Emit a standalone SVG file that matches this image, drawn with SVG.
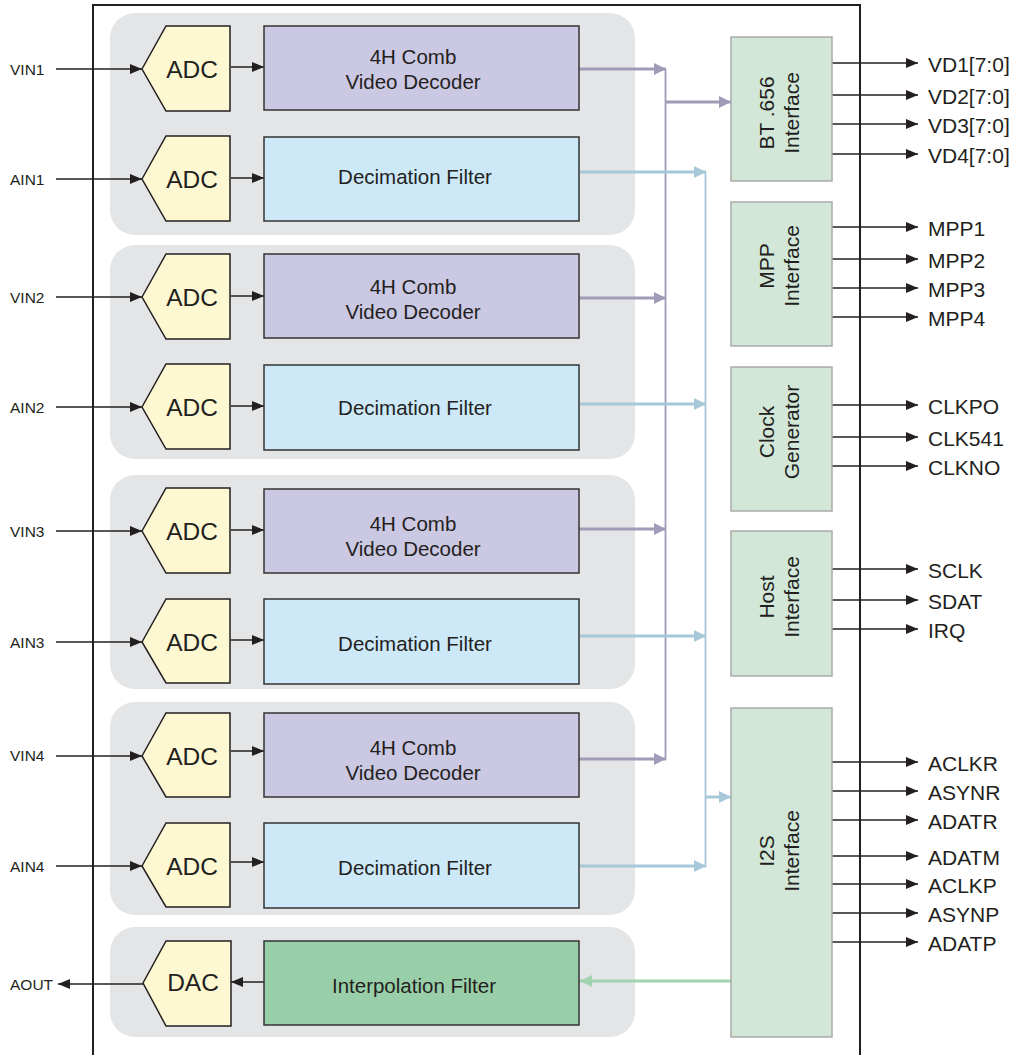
<svg xmlns="http://www.w3.org/2000/svg" width="1014" height="1055" viewBox="0 0 1014 1055">
<style>
text{font-family:"Liberation Sans",Arial,sans-serif;fill:#231f20}
.grp{fill:#e4e5e7}
.adc{fill:#fdf8d2;stroke:#231f20;stroke-width:1.5}
.dec{fill:#cbc8e4;stroke:#333;stroke-width:1.5}
.flt{fill:#cde9f8;stroke:#333;stroke-width:1.5}
.itp{fill:#99cfa8;stroke:#333;stroke-width:1.5}
.ifc{fill:#d2e7d8;stroke:#aaaaaa;stroke-width:1.5}
.blk{stroke:#231f20;stroke-width:1.5;fill:none}
.pur{stroke:#a09cb8;fill:none}
.blu{stroke:#a6c8d8;fill:none}
.grn{stroke:#a0d4b0;fill:none;stroke-width:3}
.lbl{font-size:15.5px}
.adct{font-size:24.5px;text-anchor:middle}
.bt{font-size:20.5px;text-anchor:middle}
.out{font-size:21px}
.rot{font-size:21px;text-anchor:middle}
</style>
<defs>
<marker id="aB" markerUnits="userSpaceOnUse" markerWidth="12" markerHeight="10" refX="12" refY="5" orient="auto"><path d="M0,0 L12,5 L0,10 z" fill="#231f20"/></marker>
<marker id="aP" markerUnits="userSpaceOnUse" markerWidth="12" markerHeight="12" refX="12" refY="6" orient="auto"><path d="M0,0 L12,6 L0,12 z" fill="#a09cb8"/></marker>
<marker id="aL" markerUnits="userSpaceOnUse" markerWidth="12" markerHeight="12" refX="12" refY="6" orient="auto"><path d="M0,0 L12,6 L0,12 z" fill="#a6c8d8"/></marker>
<marker id="aG" markerUnits="userSpaceOnUse" markerWidth="12" markerHeight="12" refX="12" refY="6" orient="auto"><path d="M0,0 L12,6 L0,12 z" fill="#a0d4b0"/></marker>
</defs>

<rect x="93" y="5" width="767" height="1060" fill="none" stroke="#231f20" stroke-width="2"/>

<g id="groups">
<rect class="grp" x="110" y="13" width="525" height="222" rx="25"/>
<rect class="grp" x="110" y="245" width="525" height="214" rx="25"/>
<rect class="grp" x="110" y="475" width="525" height="214" rx="25"/>
<rect class="grp" x="110" y="702" width="525" height="213" rx="25"/>
<rect class="grp" x="110" y="927" width="525" height="110" rx="25"/>
</g>

<g id="connectors">
<line class="blk" x1="56" y1="69" x2="142" y2="69" marker-end="url(#aB)"/>
<line class="blk" x1="56" y1="179" x2="142" y2="179" marker-end="url(#aB)"/>
<line class="blk" x1="56" y1="297" x2="142" y2="297" marker-end="url(#aB)"/>
<line class="blk" x1="56" y1="407" x2="142" y2="407" marker-end="url(#aB)"/>
<line class="blk" x1="56" y1="531" x2="142" y2="531" marker-end="url(#aB)"/>
<line class="blk" x1="56" y1="642" x2="142" y2="642" marker-end="url(#aB)"/>
<line class="blk" x1="56" y1="756" x2="142" y2="756" marker-end="url(#aB)"/>
<line class="blk" x1="56" y1="866" x2="142" y2="866" marker-end="url(#aB)"/>
<line class="blk" x1="143" y1="984" x2="58" y2="984" marker-end="url(#aB)"/>
<line class="blk" x1="231" y1="67" x2="264" y2="67" marker-end="url(#aB)"/>
<line class="blk" x1="231" y1="178" x2="264" y2="178" marker-end="url(#aB)"/>
<line class="blk" x1="231" y1="296" x2="264" y2="296" marker-end="url(#aB)"/>
<line class="blk" x1="231" y1="406" x2="264" y2="406" marker-end="url(#aB)"/>
<line class="blk" x1="231" y1="530" x2="264" y2="530" marker-end="url(#aB)"/>
<line class="blk" x1="231" y1="640" x2="264" y2="640" marker-end="url(#aB)"/>
<line class="blk" x1="231" y1="751" x2="264" y2="751" marker-end="url(#aB)"/>
<line class="blk" x1="231" y1="862" x2="264" y2="862" marker-end="url(#aB)"/>
<line class="blk" x1="264" y1="982" x2="231" y2="982" marker-end="url(#aB)"/>
<line class="pur" x1="665.5" y1="69" x2="665.5" y2="760" stroke-width="1.8"/>
<line class="pur" x1="579" y1="69" x2="666" y2="69" stroke-width="3" marker-end="url(#aP)"/>
<line class="pur" x1="579" y1="298" x2="666" y2="298" stroke-width="3" marker-end="url(#aP)"/>
<line class="pur" x1="579" y1="529" x2="666" y2="529" stroke-width="3" marker-end="url(#aP)"/>
<line class="pur" x1="579" y1="759" x2="666" y2="759" stroke-width="3" marker-end="url(#aP)"/>
<line class="pur" x1="665" y1="102" x2="731" y2="102" stroke-width="3" marker-end="url(#aP)"/>
<line class="blu" x1="705.5" y1="172" x2="705.5" y2="867" stroke-width="1.8"/>
<line class="blu" x1="579" y1="172" x2="706" y2="172" stroke-width="3" marker-end="url(#aL)"/>
<line class="blu" x1="579" y1="404" x2="706" y2="404" stroke-width="3" marker-end="url(#aL)"/>
<line class="blu" x1="579" y1="636" x2="706" y2="636" stroke-width="3" marker-end="url(#aL)"/>
<line class="blu" x1="579" y1="866" x2="706" y2="866" stroke-width="3" marker-end="url(#aL)"/>
<line class="blu" x1="705" y1="797" x2="731" y2="797" stroke-width="3" marker-end="url(#aL)"/>
<line class="grn" x1="731" y1="981" x2="580" y2="981" marker-end="url(#aG)"/>
<g class="blk">
<line x1="832" y1="63" x2="918" y2="63" marker-end="url(#aB)"/>
<line x1="832" y1="95" x2="918" y2="95" marker-end="url(#aB)"/>
<line x1="832" y1="124" x2="918" y2="124" marker-end="url(#aB)"/>
<line x1="832" y1="154" x2="918" y2="154" marker-end="url(#aB)"/>
<line x1="832" y1="227" x2="918" y2="227" marker-end="url(#aB)"/>
<line x1="832" y1="259" x2="918" y2="259" marker-end="url(#aB)"/>
<line x1="832" y1="288" x2="918" y2="288" marker-end="url(#aB)"/>
<line x1="832" y1="317" x2="918" y2="317" marker-end="url(#aB)"/>
<line x1="832" y1="405" x2="918" y2="405" marker-end="url(#aB)"/>
<line x1="832" y1="437" x2="918" y2="437" marker-end="url(#aB)"/>
<line x1="832" y1="466" x2="918" y2="466" marker-end="url(#aB)"/>
<line x1="832" y1="569" x2="918" y2="569" marker-end="url(#aB)"/>
<line x1="832" y1="600" x2="918" y2="600" marker-end="url(#aB)"/>
<line x1="832" y1="629" x2="918" y2="629" marker-end="url(#aB)"/>
<line x1="832" y1="762" x2="918" y2="762" marker-end="url(#aB)"/>
<line x1="832" y1="791" x2="918" y2="791" marker-end="url(#aB)"/>
<line x1="832" y1="820" x2="918" y2="820" marker-end="url(#aB)"/>
<line x1="832" y1="856" x2="918" y2="856" marker-end="url(#aB)"/>
<line x1="832" y1="884" x2="918" y2="884" marker-end="url(#aB)"/>
<line x1="832" y1="913" x2="918" y2="913" marker-end="url(#aB)"/>
<line x1="832" y1="942" x2="918" y2="942" marker-end="url(#aB)"/>
</g>
</g>

<g id="adc1"><path class="adc" d="M142,69 L166,26 L230,26 L230,111 L166,111 z"/><text class="adct" x="192" y="78">ADC</text></g>
<g id="adc2"><path class="adc" d="M142,179 L166,136 L230,136 L230,221 L166,221 z"/><text class="adct" x="192" y="188">ADC</text></g>
<g id="adc3"><path class="adc" d="M142,297 L166,254 L230,254 L230,339 L166,339 z"/><text class="adct" x="192" y="306">ADC</text></g>
<g id="adc4"><path class="adc" d="M142,407 L166,364 L230,364 L230,449 L166,449 z"/><text class="adct" x="192" y="416">ADC</text></g>
<g id="adc5"><path class="adc" d="M142,531 L166,488 L230,488 L230,573 L166,573 z"/><text class="adct" x="192" y="540">ADC</text></g>
<g id="adc6"><path class="adc" d="M142,642 L166,599 L230,599 L230,683 L166,683 z"/><text class="adct" x="192" y="651">ADC</text></g>
<g id="adc7"><path class="adc" d="M142,756 L166,713 L230,713 L230,797 L166,797 z"/><text class="adct" x="192" y="765">ADC</text></g>
<g id="adc8"><path class="adc" d="M142,866 L166,823 L230,823 L230,907 L166,907 z"/><text class="adct" x="192" y="875">ADC</text></g>
<g id="dac"><path class="adc" d="M143,983 L166,941 L231,941 L231,1026 L166,1026 z"/><text class="adct" x="193" y="991">DAC</text></g>

<g id="dec1"><rect class="dec" x="264" y="26" width="315" height="84"/><text class="bt" x="413" y="64">4H Comb</text><text class="bt" x="413" y="89">Video Decoder</text></g>
<g id="flt1"><rect class="flt" x="264" y="137" width="315" height="84"/><text class="bt" x="415" y="184">Decimation Filter</text></g>
<g id="dec2"><rect class="dec" x="264" y="254" width="315" height="84"/><text class="bt" x="413" y="294">4H Comb</text><text class="bt" x="413" y="319">Video Decoder</text></g>
<g id="flt2"><rect class="flt" x="264" y="365" width="315" height="85"/><text class="bt" x="415" y="415">Decimation Filter</text></g>
<g id="dec3"><rect class="dec" x="264" y="489" width="315" height="84"/><text class="bt" x="413" y="531">4H Comb</text><text class="bt" x="413" y="556">Video Decoder</text></g>
<g id="flt3"><rect class="flt" x="264" y="599" width="315" height="85"/><text class="bt" x="415" y="651">Decimation Filter</text></g>
<g id="dec4"><rect class="dec" x="264" y="713" width="315" height="84"/><text class="bt" x="413" y="755">4H Comb</text><text class="bt" x="413" y="780">Video Decoder</text></g>
<g id="flt4"><rect class="flt" x="264" y="823" width="315" height="85"/><text class="bt" x="415" y="875">Decimation Filter</text></g>
<g id="itp"><rect class="itp" x="264" y="941" width="315" height="84"/><text class="bt" x="414" y="993">Interpolation Filter</text></g>

<g id="bt656"><rect class="ifc" x="731" y="37" width="101" height="144"/><text class="rot" transform="translate(774,113) rotate(-90)"><tspan x="0" y="0">BT .656</tspan><tspan x="0" y="25">Interface</tspan></text></g>
<g id="mpp"><rect class="ifc" x="731" y="202" width="101" height="144"/><text class="rot" transform="translate(774,266) rotate(-90)"><tspan x="0" y="0">MPP</tspan><tspan x="0" y="25">Interface</tspan></text></g>
<g id="clk"><rect class="ifc" x="731" y="367" width="101" height="144"/><text class="rot" transform="translate(774,432) rotate(-90)"><tspan x="0" y="0">Clock</tspan><tspan x="0" y="25">Generator</tspan></text></g>
<g id="host"><rect class="ifc" x="731" y="531" width="101" height="145"/><text class="rot" transform="translate(774,597) rotate(-90)"><tspan x="0" y="0">Host</tspan><tspan x="0" y="25">Interface</tspan></text></g>
<g id="i2s"><rect class="ifc" x="731" y="708" width="101" height="329"/><text class="rot" transform="translate(774,851) rotate(-90)"><tspan x="0" y="0">I2S</tspan><tspan x="0" y="25">Interface</tspan></text></g>

<g id="labels">
<text class="lbl" x="10" y="75">VIN1</text>
<text class="lbl" x="10" y="185">AIN1</text>
<text class="lbl" x="10" y="303">VIN2</text>
<text class="lbl" x="10" y="413">AIN2</text>
<text class="lbl" x="10" y="537">VIN3</text>
<text class="lbl" x="10" y="648">AIN3</text>
<text class="lbl" x="10" y="761">VIN4</text>
<text class="lbl" x="10" y="872">AIN4</text>
<text class="lbl" x="10" y="990">AOUT</text>
<text class="out" x="928" y="72">VD1[7:0]</text>
<text class="out" x="928" y="104">VD2[7:0]</text>
<text class="out" x="928" y="133">VD3[7:0]</text>
<text class="out" x="928" y="163">VD4[7:0]</text>
<text class="out" x="928" y="236">MPP1</text>
<text class="out" x="928" y="268">MPP2</text>
<text class="out" x="928" y="297">MPP3</text>
<text class="out" x="928" y="326">MPP4</text>
<text class="out" x="928" y="414">CLKPO</text>
<text class="out" x="928" y="446">CLK541</text>
<text class="out" x="928" y="475">CLKNO</text>
<text class="out" x="928" y="578">SCLK</text>
<text class="out" x="928" y="609">SDAT</text>
<text class="out" x="928" y="638">IRQ</text>
<text class="out" x="928" y="771">ACLKR</text>
<text class="out" x="928" y="800">ASYNR</text>
<text class="out" x="928" y="829">ADATR</text>
<text class="out" x="928" y="865">ADATM</text>
<text class="out" x="928" y="893">ACLKP</text>
<text class="out" x="928" y="922">ASYNP</text>
<text class="out" x="928" y="951">ADATP</text>
</g>
</svg>
